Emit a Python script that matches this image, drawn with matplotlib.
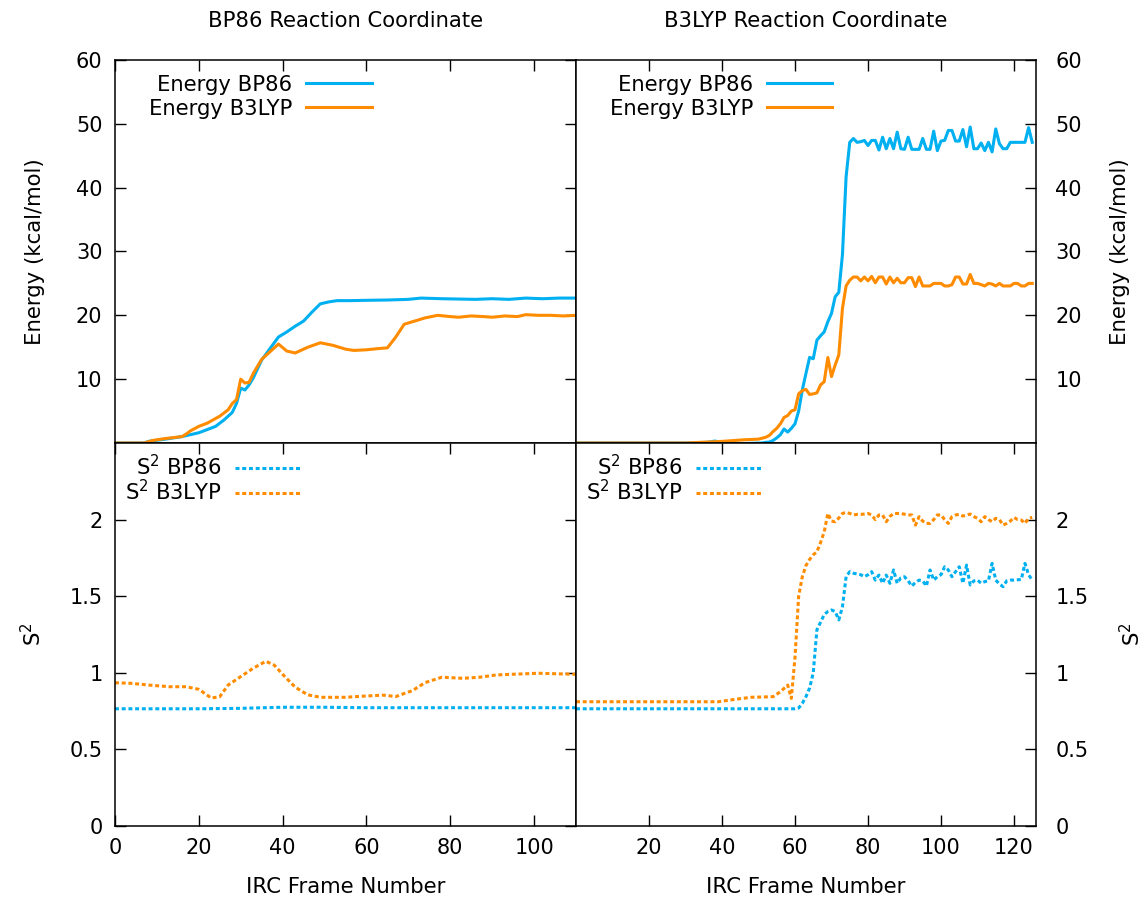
import matplotlib
matplotlib.use('Agg')
import matplotlib.pyplot as plt

# IRC frames and values
# --- BP86 reaction coordinate (left column) ---
bp_frames_e_bp86 = [0, 7, 8, 12, 16, 20, 24, 26, 28, 29, 30, 31, 32, 33, 35, 37, 39, 41, 43, 45,
                    47, 49, 51, 53, 56, 60, 65, 70, 73, 78, 82, 86, 90, 94, 98, 102, 106, 110]
bp_energy_bp86 = [0, 0, 0.25, 0.6, 1.0, 1.6, 2.6, 3.6, 4.8, 6.2, 8.6, 8.3, 9.1, 10.2, 13.0, 14.8, 16.6, 17.4, 18.3, 19.1,
                  20.5, 21.8, 22.1, 22.3, 22.3, 22.35, 22.4, 22.5, 22.7, 22.6, 22.55, 22.5, 22.6, 22.5, 22.7, 22.6, 22.7, 22.7]

bp_frames_e_b3lyp = [0, 7, 9, 12, 16, 17, 18, 20, 22, 25, 27, 28, 29, 30, 31, 32, 33, 35, 37, 39, 41, 43, 46, 49,
                     52, 55, 57, 60, 63, 65, 67, 69, 71, 74, 77, 80, 82, 85, 88, 90, 93, 96, 98, 101, 104, 107, 110]
bp_energy_b3lyp = [0, 0, 0.4, 0.7, 1.0, 1.4, 1.9, 2.6, 3.1, 4.2, 5.2, 6.2, 6.8, 10.0, 9.4, 9.5, 10.9, 13.1, 14.3, 15.5, 14.4, 14.1, 15.0, 15.7,
                   15.3, 14.7, 14.5, 14.6, 14.8, 14.9, 16.6, 18.6, 19.0, 19.6, 20.0, 19.8, 19.7, 19.9, 19.8, 19.7, 19.9, 19.8, 20.1, 20.0, 20.0, 19.9, 20.0]

bp_frames_s2_bp86 = [0, 20, 30, 40, 50, 60, 80, 100, 110]
bp_s2_bp86 = [0.765, 0.765, 0.768, 0.775, 0.775, 0.772, 0.772, 0.772, 0.772]

bp_frames_s2_b3lyp = [0, 4, 8, 13, 17, 20, 23, 25, 27, 30, 33, 36, 38, 40, 43, 46, 49, 55, 59, 64, 67,
                      71, 74, 78, 83, 87, 91, 101, 110]
bp_s2_b3lyp = [0.935, 0.931, 0.92, 0.909, 0.909, 0.892, 0.835, 0.844, 0.92, 0.975, 1.03, 1.075, 1.05, 0.99, 0.906, 0.856, 0.84, 0.84, 0.847, 0.854, 0.845,
               0.884, 0.936, 0.971, 0.964, 0.971, 0.986, 0.997, 0.99]

# --- B3LYP reaction coordinate (right column) ---
b3_frames_e_bp86 = [0, 30, 36, 38, 40, 45, 51] + list(range(52, 126))
b3_energy_bp86 = [0, 0, 0.1, 0.3, 0.1, -0.1, 0,
                  0.1, 0.15, 0.4, 0.8, 1.3, 2.2, 1.7, 2.3, 3.0, 5.0, 8.3, 10.9, 13.4, 13.2, 16.1, 16.8, 17.4, 19.0,
                  20.3, 22.9, 23.6, 29.5, 41.7, 47.1, 47.7, 47.1, 47.2, 47.4, 46.6, 47.4, 47.4, 45.9, 47.9, 46.1,
                  47.7, 46.1, 48.7, 46.1, 46.0, 47.9, 46.0, 46.0, 46.0, 47.7, 46.0, 46.0, 48.85, 45.8, 47.3, 47.4,
                  48.96, 48.96, 47.3, 47.3, 49.1, 46.4, 49.5, 46.1, 46.1, 47.0, 45.8, 47.1, 45.6, 49.2, 46.9, 46.1,
                  46.1, 47.1, 47.1, 47.1, 47.1, 47.1, 49.4, 47.1]

b3_frames_e_b3lyp = [0, 30, 40, 46, 50, 52] + list(range(53, 126))
b3_energy_b3lyp = [0, 0, 0.25, 0.5, 0.6, 0.9,
                   1.2, 1.8, 2.3, 3.0, 4.0, 4.3, 5.0, 5.2, 7.7, 8.2, 8.4, 7.6, 7.7, 7.85, 9.1, 9.6, 13.4, 10.4,
                   12.2, 13.8, 21.1, 24.6, 25.5, 26.0, 26.0, 25.4, 26.0, 25.4, 26.1, 25.1, 26.0, 26.0, 24.9, 26.0,
                   25.1, 25.8, 25.1, 25.1, 25.9, 25.9, 24.5, 26.0, 24.6, 24.6, 24.6, 25.0, 25.0, 25.0, 24.6, 24.6,
                   24.8, 26.0, 26.0, 24.9, 24.9, 26.4, 25.0, 25.0, 24.8, 24.6, 25.0, 24.9, 24.6, 25.0, 24.6, 24.6,
                   24.6, 25.0, 25.0, 24.6, 24.6, 25.0, 25.0]

b3_frames_s2_bp86 = [0, 60] + list(range(61, 126))
b3_s2_bp86 = [0.765, 0.765,
              0.77, 0.80, 0.844, 0.9, 1.0, 1.28, 1.33, 1.38, 1.40, 1.41, 1.40, 1.345, 1.43, 1.627, 1.66, 1.65,
              1.645, 1.64, 1.627, 1.64, 1.66, 1.605, 1.638, 1.584, 1.638, 1.584, 1.671, 1.584, 1.62, 1.627, 1.6,
              1.566, 1.59, 1.605, 1.6, 1.566, 1.671, 1.605, 1.627, 1.64, 1.692, 1.671, 1.627, 1.66, 1.692, 1.584,
              1.703, 1.573, 1.6, 1.605, 1.584, 1.595, 1.6, 1.714, 1.605, 1.58, 1.562, 1.6, 1.605, 1.605, 1.607,
              1.609, 1.714, 1.64, 1.605]

b3_frames_s2_b3lyp = [0, 39, 44, 48, 54, 56, 58, 59] + list(range(60, 126))
b3_s2_b3lyp = [0.811, 0.811, 0.828, 0.84, 0.844, 0.876, 0.92, 0.833,
               1.1, 1.5, 1.627, 1.70, 1.74, 1.77, 1.79, 1.85, 1.92, 2.04, 1.99, 1.986, 2.01, 2.04, 2.047, 2.04,
               2.03, 2.034, 2.034, 2.036, 2.04, 2.03, 2.0, 2.03, 2.03, 1.986, 2.02, 2.04, 2.04, 2.04, 2.035, 2.03,
               2.03, 1.964, 2.019, 1.99, 1.975, 1.975, 2.0, 2.03, 2.03, 2.0, 1.975, 2.019, 2.03, 2.034, 2.023,
               2.03, 2.036, 2.02, 2.008, 1.986, 2.019, 2.0, 1.986, 2.008, 2.0, 1.964, 1.975, 1.99, 2.014, 2.0,
               1.997, 1.975, 2.008, 2.014]

energy_ticks = [10, 20, 30, 40, 50, 60]
s2_ticks = [0, 0.5, 1, 1.5, 2]
s2_tick_labels = ['0', '0.5', '1', '1.5', '2']

blue = '#00b0f0'
orange = '#ff8c00'
dotted = (0, (1.3, 0.9))

plt.rcParams['font.family'] = ['DejaVu Sans']
plt.rcParams['font.size'] = 15
plt.rcParams['mathtext.fontset'] = 'dejavusans'

fig = plt.figure(figsize=(11.44, 8.98), dpi=100)
ax_tl = fig.add_axes([0.1005, 0.5067, 0.403, 0.4265])
ax_tr = fig.add_axes([0.5035, 0.5067, 0.402, 0.4265])
ax_bl = fig.add_axes([0.1005, 0.0802, 0.403, 0.4265])
ax_br = fig.add_axes([0.5035, 0.0802, 0.402, 0.4265])

# energies
ax_tl.plot(bp_frames_e_bp86, bp_energy_bp86, color=blue, lw=2.2, label='Energy BP86')
ax_tl.plot(bp_frames_e_b3lyp, bp_energy_b3lyp, color=orange, lw=2.2, label='Energy B3LYP')
ax_tr.plot(b3_frames_e_bp86, b3_energy_bp86, color=blue, lw=2.2, label='Energy BP86')
ax_tr.plot(b3_frames_e_b3lyp, b3_energy_b3lyp, color=orange, lw=2.2, label='Energy B3LYP')

# spin contamination
ax_bl.plot(bp_frames_s2_bp86, bp_s2_bp86, color=blue, lw=2.2, ls=dotted, label='S$^2$ BP86')
ax_bl.plot(bp_frames_s2_b3lyp, bp_s2_b3lyp, color=orange, lw=2.2, ls=dotted, label='S$^2$ B3LYP')
ax_br.plot(b3_frames_s2_bp86, b3_s2_bp86, color=blue, lw=2.2, ls=dotted, label='S$^2$ BP86')
ax_br.plot(b3_frames_s2_b3lyp, b3_s2_b3lyp, color=orange, lw=2.2, ls=dotted, label='S$^2$ B3LYP')

for ax in (ax_tl, ax_bl):
    ax.set_xlim(0, 110)
    ax.set_xticks([0, 20, 40, 60, 80, 100])
for ax in (ax_tr, ax_br):
    ax.set_xlim(0, 126)
    ax.set_xticks([20, 40, 60, 80, 100, 120])
for ax in (ax_tl, ax_tr):
    ax.set_ylim(0, 60)
    ax.set_yticks(energy_ticks)
for ax in (ax_bl, ax_br):
    ax.set_ylim(0, 2.5)
    ax.set_yticks(s2_ticks)
    ax.set_yticklabels(s2_tick_labels)

for ax in (ax_tl, ax_tr, ax_bl, ax_br):
    for sp in ax.spines.values():
        sp.set_linewidth(1.1)
    ax.tick_params(direction='in', length=8, width=1.0, top=True, pad=9, labelsize=15)

ax_tl.tick_params(bottom=False, labelbottom=False, right=True)
ax_bl.tick_params(right=True)
ax_tr.tick_params(bottom=False, labelbottom=False, left=False, labelleft=False,
                  right=True, labelright=True)
ax_br.tick_params(left=False, labelleft=False, right=True, labelright=True)
ax_tr.tick_params(axis='y', pad=14)
ax_br.tick_params(axis='y', pad=14)

ax_tl.set_title('BP86 Reaction Coordinate', pad=24, fontsize=15.2)
ax_tr.set_title('B3LYP Reaction Coordinate', pad=24, fontsize=15.2)

ax_tl.set_ylabel('Energy (kcal/mol)', fontsize=15.3)
ax_tl.yaxis.set_label_coords(-0.152, 0.5)
ax_bl.set_ylabel('S$^2$', fontsize=15.3)
ax_bl.yaxis.set_label_coords(-0.152, 0.5)
ax_tr.yaxis.set_label_position('right')
ax_tr.set_ylabel('Energy (kcal/mol)', fontsize=15.3)
ax_tr.yaxis.set_label_coords(1.161, 0.5)
ax_br.yaxis.set_label_position('right')
ax_br.set_ylabel('S$^2$', fontsize=15.3)
ax_br.yaxis.set_label_coords(1.18, 0.5)

for ax in (ax_bl, ax_br):
    ax.set_xlabel('IRC Frame Number', fontsize=15.3)
    ax.xaxis.set_label_coords(0.5, -0.133)

leg_kw = dict(loc='upper right', frameon=False, markerfirst=False, handlelength=3.1,
              handletextpad=0.65, borderpad=0, borderaxespad=0, fontsize=15.2)
ax_tl.legend(bbox_to_anchor=(0.557, 0.962), labelspacing=0.2, **leg_kw)
ax_tr.legend(bbox_to_anchor=(0.557, 0.962), labelspacing=0.2, **leg_kw)
ax_bl.legend(bbox_to_anchor=(0.402, 0.972), labelspacing=0.02, **leg_kw)
ax_br.legend(bbox_to_anchor=(0.404, 0.972), labelspacing=0.02, **leg_kw)

fig.savefig('out.png', dpi=100)
